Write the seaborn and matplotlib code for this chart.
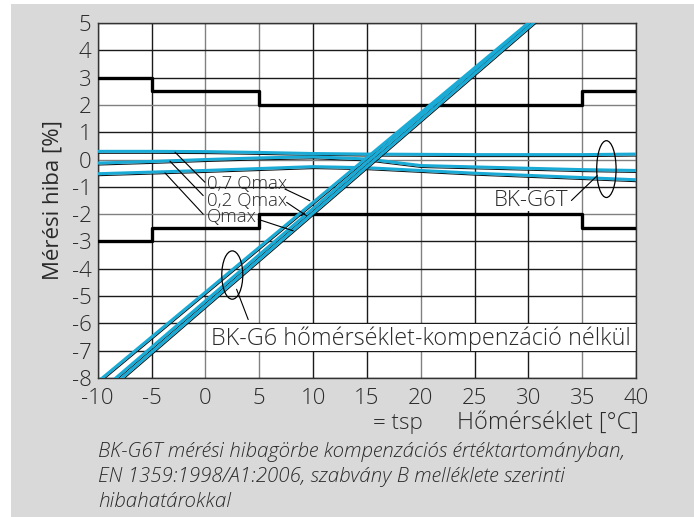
'''
BK-G6T measurement error vs temperature
'''
import seaborn as sns
import pandas as pd
import matplotlib.pyplot as plt
import matplotlib.patheffects as pe
from matplotlib.patches import Ellipse, Rectangle

# error limits (step lines)
limit_t = [-10, -5, 5, 35, 40]
limit_upper = [3, 2.5, 2, 2.5, 2.5]
limit_lower = [-3, -2.5, -2, -2.5, -2.5]

# compensated BK-G6T curves
comp_t = [-10, -5, 0, 5, 10, 15, 20, 25, 30, 35, 40]
comp_07 = [0.30, 0.30, 0.29, 0.26, 0.22, 0.20, 0.19, 0.18, 0.18, 0.18, 0.20]
comp_02 = [-0.13, -0.07, 0.0, 0.06, 0.10, 0.02, -0.22, -0.27, -0.32, -0.37, -0.40]
comp_qmax = [-0.52, -0.46, -0.40, -0.33, -0.26, -0.30, -0.40, -0.50, -0.58, -0.66, -0.74]

# uncompensated BK-G6 curves
raw_t = [-10, 0, 10, 20, 31]
raw_07 = [-8.14, -4.86, -1.57, 1.71, 5.33]
raw_02 = [-8.57, -5.18, -1.79, 1.60, 5.33]
raw_qmax = [-8.76, -5.36, -1.96, 1.44, 5.18]

x_ticks = list(range(-10, 41, 5))
y_ticks = list(range(-8, 6))

comp = pd.DataFrame({'t': comp_t, '0,7 Qmax': comp_07, '0,2 Qmax': comp_02, 'Qmax': comp_qmax})
raw = pd.DataFrame({'t': raw_t, '0,7 Qmax': raw_07, '0,2 Qmax': raw_02, 'Qmax': raw_qmax})
limits = pd.DataFrame({'t': limit_t, 'upper': limit_upper, 'lower': limit_lower})

sns.set_style('white')
plt.rcParams['font.family'] = ['Open Sans', 'DejaVu Sans']
plt.rcParams['font.weight'] = 'light'
plt.rcParams['axes.unicode_minus'] = False

W, H = 694, 517
TXT = '#2a2a2a'
FS = 16
fig = plt.figure(figsize=(W / 100, H / 100), dpi=100)
fig.patch.set_facecolor('white')
fig.patches.append(Rectangle((11 / W, 0), 1 - 11 / W, 1 - 4 / H, transform=fig.transFigure,
                             facecolor='#d9d9d9', edgecolor='none', zorder=-10))
ax = fig.add_axes([97.7 / W, 1 - 378 / H, (636 - 97.7) / W, (378 - 23) / H])
ax.set_facecolor('white')

# grid
for xv in x_ticks:
    c = '#808080' if xv in (0, 5, 20, 35) else '#1a1a1a'
    ax.axvline(xv, color=c, lw=1.0, zorder=1)
for yv in y_ticks:
    c = '#808080' if yv in (0, 2, -2) else '#1a1a1a'
    ax.axhline(yv, color=c, lw=1.0, zorder=1)

# limits
for col in ['upper', 'lower']:
    sns.lineplot(data=limits, x='t', y=col, ax=ax, color='black', lw=2.4,
                 drawstyle='steps-post', zorder=3)

# label box for BK-G6
ax.add_patch(Rectangle((0.2, -7.0), 39.8, 0.98, facecolor='white', edgecolor='none', zorder=2))

cyan = '#19aad6'
shadow = [pe.Stroke(linewidth=0.8, foreground='#111111', offset=(0.5, -1.4)), pe.Normal()]
for df in (comp, raw):
    for col in ['0,7 Qmax', '0,2 Qmax', 'Qmax']:
        sns.lineplot(data=df, x='t', y=col, ax=ax, color=cyan, lw=2.2, sort=False,
                     zorder=4, path_effects=shadow)

ax.set_xlim(-10, 40)
ax.set_ylim(-8, 5)
ax.set_xticks(x_ticks)
ax.set_yticks(y_ticks)
ax.tick_params(axis='both', direction='out', length=3, width=1, color='#1a1a1a',
               labelsize=FS, labelcolor=TXT)
ax.tick_params(axis='x', pad=4)
ax.tick_params(axis='y', pad=1.5)
for s in ax.spines.values():
    s.set_color('#333333')
    s.set_linewidth(1)
ax.set_xlabel('')
ax.set_ylabel('Mérési hiba [%]', fontsize=FS, color=TXT, labelpad=6)

# annotations
tk = dict(color='black', lw=0.8, zorder=5)
ax.plot([-2.82, -0.04], [0.27, -0.83], **tk)
ax.plot([-3.29, -0.2], [-0.06, -1.32], **tk)
ax.plot([-3.75, -0.2], [-0.49, -2.0], **tk)
ax.plot([7.39, 9.71], [-1.08, -1.51], **tk)
ax.plot([7.55, 9.4], [-1.57, -2.06], **tk)
ax.plot([4.91, 8.16], [-2.19, -2.61], **tk)
ax.plot([36.4, 34.0], [-0.59, -1.5], **tk)
ax.plot([2.9, 3.98], [-4.75, -5.86], **tk)
ax.add_patch(Ellipse((37.25, -0.35), 1.8, 2.08, fill=False, edgecolor='black', lw=0.9, zorder=5))
ax.add_patch(Ellipse((2.5, -4.23), 1.95, 1.77, fill=False, edgecolor='black', lw=0.9, zorder=5))

lab = dict(fontsize=13.5, color=TXT, va='center', ha='left', zorder=6)
ax.text(0.12, -0.89, '0,7 Qmax', **lab)
ax.text(0.12, -1.51, '0,2 Qmax', **lab)
ax.text(0.12, -2.12, 'Qmax', **lab)
ax.text(33.7, -1.5, 'BK-G6T', fontsize=FS, color=TXT, va='center', ha='right', zorder=6,
        bbox=dict(facecolor='white', edgecolor='none', pad=0))
ax.text(0.55, -6.55, 'BK-G6 hőmérséklet-kompenzáció nélkül', fontsize=16.8, color=TXT,
        va='center', ha='left', zorder=6)

fig.text(373 / W, 1 - 423 / H, '= tsp', fontsize=FS, color=TXT, va='center', ha='left')
fig.text(639 / W, 1 - 423 / H, 'Hőmérséklet [°C]', fontsize=17, color=TXT, va='center', ha='right')

caption = ['BK-G6T mérési hibagörbe kompenzációs értéktartományban,',
           'EN 1359:1998/A1:2006, szabvány B melléklete szerinti',
           'hibahatárokkal']
for i, line in enumerate(caption):
    fig.text(98 / W, 1 - (451.7 + 25 * i) / H, line, fontsize=14.8, style='italic',
             color=TXT, va='center', ha='left')

fig.savefig('out.png', dpi=100, facecolor=fig.get_facecolor())
